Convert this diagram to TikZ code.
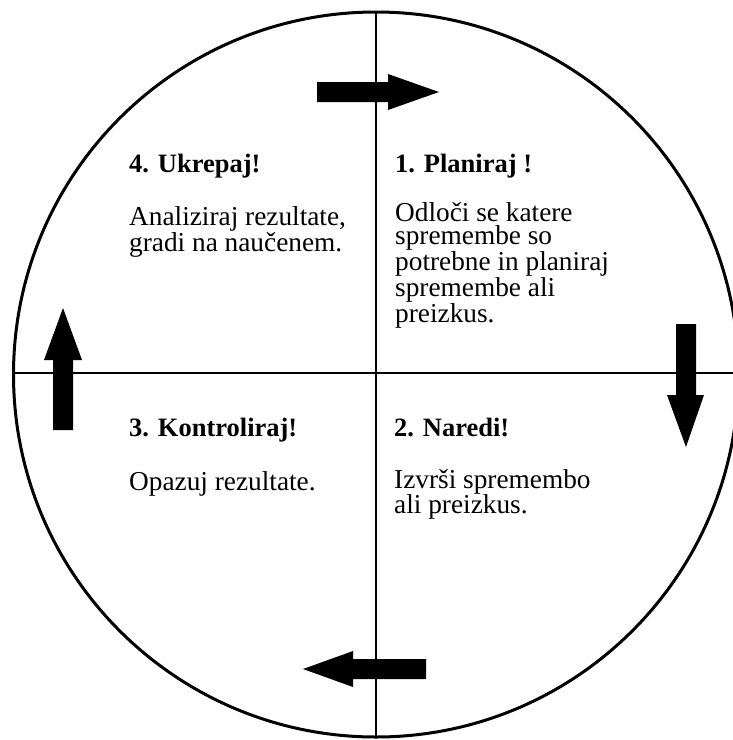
\documentclass[tikz,border=0pt]{standalone}
\usepackage{fontspec}
\setmainfont{Liberation Serif}
\begin{document}
\begin{tikzpicture}[x=1pt,y=-1pt,
  txt/.style={inner sep=0pt,anchor=base west,align=left,
    font=\fontsize{27.3}{23.8}\selectfont},
  head/.style={txt,font=\fontsize{26.5}{23.8}\selectfont\bfseries},
  rule/.style={line width=2.6pt},
  bigarrow/.style={fill=black,draw=none}]
\useasboundingbox (0,0) rectangle (733,740);
\begin{scope}
\clip (0,0) rectangle (733,740);
% outer circle and quadrant dividers
\coordinate (c) at (376,374.5);
\draw[line width=3pt] (c) circle[radius=362.5];
\coordinate (top) at (376,12);
\coordinate (bot) at (376,737);
\coordinate (lft) at (13.5,373);
\coordinate (rgt) at (738.5,373);
\draw[rule] (top) -- (bot);
\draw[rule] (lft) -- (rgt);
\end{scope}
% cycle arrows
\fill[bigarrow] (317,82) -- (388,82) -- (388,74) -- (439,92) -- (388,110) -- (388,102) -- (317,102) -- cycle;
\fill[bigarrow] (676,324) -- (696,324) -- (696,395) -- (704,395) -- (686,447) -- (667,395) -- (676,395) -- cycle;
\fill[bigarrow] (426,659) -- (426,679) -- (353,679) -- (353,687) -- (303,669) -- (353,651) -- (353,659) -- cycle;
\fill[bigarrow] (53,430) -- (73,430) -- (73,360) -- (82,360) -- (63,308) -- (44,360) -- (53,360) -- cycle;
% quadrant texts (multi-line nodes are anchored at their last baseline)
\node[head] (h1) at (395,172) {1. Planiraj !};
\node[txt]  (t1) at (395,322.2) {Odloči se katere\\spremembe so\\potrebne in planiraj\\spremembe ali\\preizkus.};
\node[head] (h2) at (394,436) {2. Naredi!};
\node[txt]  (t2) at (394,513.8) {Izvrši spremembo\\ali preizkus.};
\node[head] (h3) at (129,436) {3. Kontroliraj!};
\node[txt]  (t3) at (129,490) {Opazuj rezultate.};
\node[head] (h4) at (129,172) {4. Ukrepaj!};
\node[txt]  (t4) at (129,251.8) {Analiziraj rezultate,\\gradi na naučenem.};
\end{tikzpicture}
\end{document}
